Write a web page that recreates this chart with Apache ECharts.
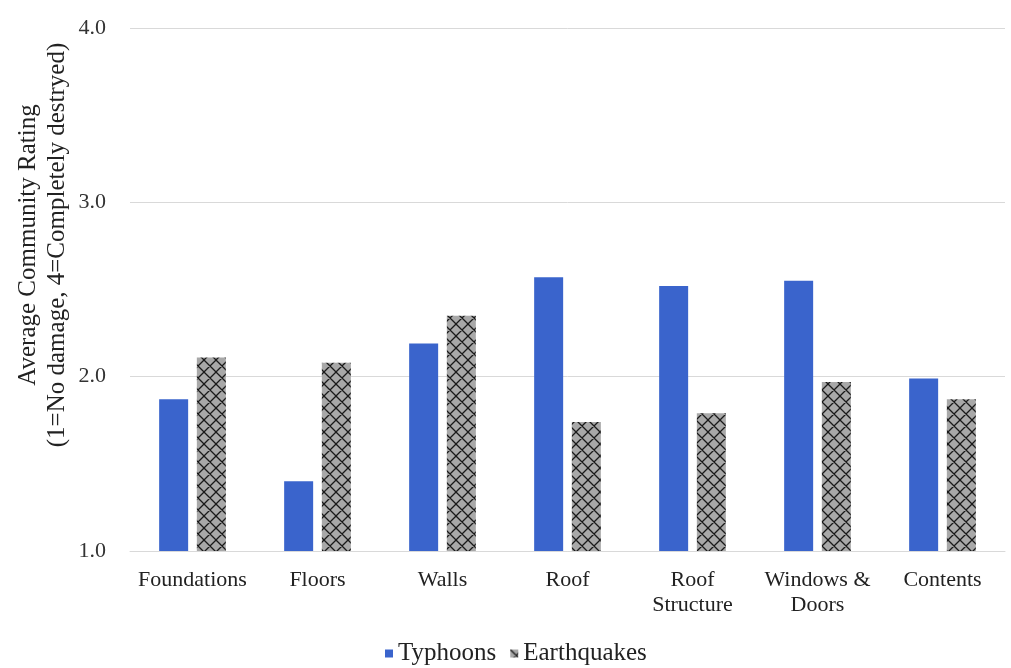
<!DOCTYPE html>
<html>
<head>
<meta charset="utf-8">
<script src="https://cdn.jsdelivr.net/npm/echarts@6/dist/echarts.min.js"></script>
<style>html,body{margin:0;padding:0;background:#fff;}#c{width:1011px;height:668px;}</style>
</head>
<body>
<div id="c"></div>
<script>
const categories = ['Foundations', 'Floors', 'Walls', 'Roof', 'Roof\nStructure', 'Windows &\nDoors', 'Contents'];
const typhoons = [1.87, 1.40, 2.19, 2.57, 2.52, 2.55, 1.99];
const earthquakes = [2.11, 2.08, 2.35, 1.74, 1.79, 1.97, 1.87];
const yTicks = [1.0, 2.0, 3.0, 4.0];

function hatch() {
  const s = 12;
  const c = document.createElement('canvas');
  c.width = s; c.height = s;
  const g = c.getContext('2d');
  g.fillStyle = '#a8a8a8';
  g.fillRect(0, 0, s, s);
  g.strokeStyle = '#1a1a1a';
  g.lineWidth = 1.3;
  g.beginPath();
  for (let k = -1; k <= 1; k++) {
    g.moveTo(k * s, 0); g.lineTo(k * s + s, s);
    g.moveTo(k * s, s); g.lineTo(k * s + s, 0);
  }
  g.stroke();
  return c;
}

const font = '"Liberation Serif", "DejaVu Serif", serif';
const chart = echarts.init(document.getElementById('c'), null, { renderer: 'canvas' });
chart.setOption({
  animation: false,
  backgroundColor: '#fff',
  textStyle: { fontFamily: font },
  grid: { left: 130, right: 6, top: 28, bottom: 117 },
  legend: {
    top: 636,
    left: 380,
    icon: 'rect',
    itemWidth: 8, itemHeight: 8, itemGap: 14,
    textStyle: { fontFamily: font, fontSize: 25, color: '#222' },
    data: ['Typhoons', 'Earthquakes']
  },
  graphic: [{
    type: 'text',
    rotation: Math.PI / 2,
    x: 14, y: 245,
    style: {
      text: 'Average Community Rating\n(1=No damage, 4=Completely destryed)',
      font: '25px ' + font,
      fill: '#222',
      align: 'center',
      verticalAlign: 'top',
      lineHeight: 29
    }
  }],
  xAxis: {
    type: 'category',
    data: categories,
    axisLine: { lineStyle: { color: '#d9d9d9', width: 1 } },
    axisTick: { show: false },
    axisLabel: { fontFamily: font, fontSize: 22, color: '#222', lineHeight: 25, margin: 17, interval: 0 }
  },
  yAxis: {
    type: 'value',
    min: 1, max: 4, interval: 1,
    axisLine: { show: false },
    axisTick: { show: false },
    splitLine: { lineStyle: { color: '#d9d9d9', width: 1 } },
    axisLabel: {
      fontFamily: font, fontSize: 22, color: '#333', margin: 24,
      formatter: v => yTicks.includes(v) ? v.toFixed(1) : ''
    }
  },
  series: [
    { name: 'Typhoons', type: 'bar', data: typhoons, barWidth: 29, barGap: '30%', itemStyle: { color: '#3a64cc' } },
    { name: 'Earthquakes', type: 'bar', data: earthquakes, barWidth: 29, itemStyle: { color: { image: hatch(), repeat: 'repeat' } } }
  ]
});
</script>
</body>
</html>
